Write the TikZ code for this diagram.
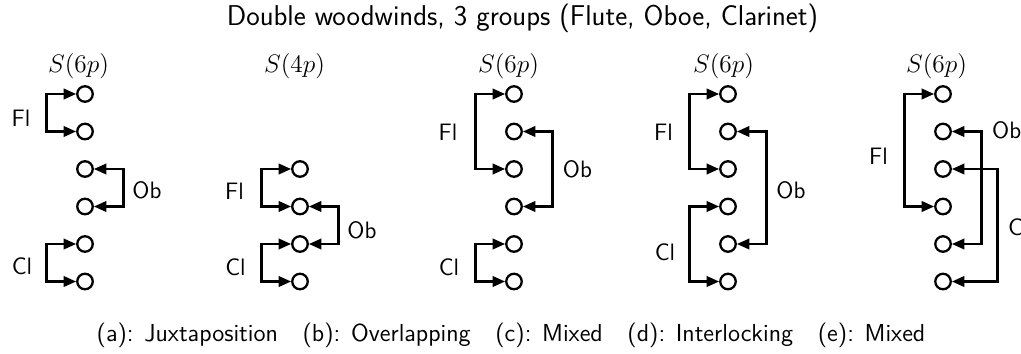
\documentclass[tikz,border=0pt]{standalone}
\usepackage{amsmath}
\usetikzlibrary{arrows.meta}

\begin{document}
\begin{tikzpicture}[
    font=\sffamily,
    hole/.style={circle, draw, line width=1.3pt, minimum size=0.31cm, inner sep=0pt},
    brk/.style={{Triangle[length=0.25cm, width=0.21cm]}-{Triangle[length=0.25cm, width=0.21cm]},
                line width=1.3pt},
    grp/.style={font=\sffamily\fontsize{13.5}{16}\selectfont},
    seats/.style={font=\fontsize{15.5}{18}\selectfont}
  ]
    \useasboundingbox (0,0) rectangle (20.42,7.06);

    %% ── Title
    \node[font=\sffamily\fontsize{16.3}{19}\selectfont] (title) at (10.45,6.70)
          {Double woodwinds, 3 groups (Flute, Oboe, Clarinet)};

    %% ── Players (one circle per seat)
    \foreach \col/\x in {a/1.70, c/10.28, d/14.56, e/18.86}
      \foreach \r/\y in {1/5.18, 2/4.43, 3/3.68, 4/2.93, 5/2.18, 6/1.43}
        \node[hole] (\col\r) at (\x,\y) {};
    \foreach \r/\y in {3/3.68, 4/2.93, 5/2.18, 6/1.43}
      \node[hole] (b\r) at (6.00,\y) {};

    %% ── Section sizes
    \node[seats] (sa) at (1.57,5.74)  {$S(6p)$};
    \node[seats] (sb) at (5.89,5.74)  {$S(4p)$};
    \node[seats] (sc) at (10.17,5.74) {$S(6p)$};
    \node[seats] (sd) at (14.47,5.74) {$S(6p)$};
    \node[seats] (se) at (18.73,5.74) {$S(6p)$};

    %% (a) juxtaposition
    \draw[brk] (a1.west) -- ++(-0.59,0) |- (a2.west);
    \draw[brk] (a3.east) -- ++(0.59,0)  |- (a4.east);
    \draw[brk] (a5.west) -- ++(-0.59,0) |- (a6.west);
    \node[grp] (fla) at (0.42,4.70) {Fl};
    \node[grp] (oba) at (2.94,3.25) {Ob};
    \node[grp] (cla) at (0.44,1.73) {Cl};

    %% (b) overlapping
    \draw[brk] (b3.west) -- ++(-0.59,0) |- (b4.west);
    \draw[brk] (b4.east) -- ++(0.59,0)  |- (b5.east);
    \draw[brk] (b5.west) -- ++(-0.59,0) |- (b6.west);
    \node[grp] (flb) at (4.69,3.23) {Fl};
    \node[grp] (obb) at (7.24,2.46) {Ob};
    \node[grp] (clb) at (4.71,1.71) {Cl};

    %% (c) mixed
    \draw[brk] (c1.west) -- ++(-0.59,0) |- (c3.west);
    \draw[brk] (c2.east) -- ++(0.59,0)  |- (c4.east);
    \draw[brk] (c5.west) -- ++(-0.59,0) |- (c6.west);
    \node[grp] (flc) at (8.96,4.42)  {Fl};
    \node[grp] (obc) at (11.55,3.67) {Ob};
    \node[grp] (clc) at (8.98,1.71)  {Cl};

    %% (d) interlocking
    \draw[brk] (d1.west) -- ++(-0.59,0) |- (d3.west);
    \draw[brk] (d2.east) -- ++(0.59,0)  |- (d5.east);
    \draw[brk] (d4.west) -- ++(-0.59,0) |- (d6.west);
    \node[grp] (fld) at (13.27,4.42) {Fl};
    \node[grp] (obd) at (15.82,3.26) {Ob};
    \node[grp] (cld) at (13.30,2.01) {Cl};

    %% (e) mixed
    \draw[brk] (e1.west) -- ++(-0.59,0) |- (e4.west);
    \draw[brk] (e2.east) -- ++(0.59,0)  |- (e5.east);
    \draw[brk] (e3.east) -- ++(0.91,0) |- (e6.east);
    \node[grp] (fle) at (17.57,3.93) {Fl};
    \node[grp, anchor=west] (obe) at (19.72,4.45) {Ob};
    \node[grp, anchor=west] (cle) at (20.04,2.51) {C};

    %% ── Captions
    \node[font=\sffamily\fontsize{14}{17}\selectfont] (caption) at (10.22,0.36)
          {(a): Juxtaposition\quad (b): Overlapping\quad (c): Mixed\quad
           (d): Interlocking\quad (e): Mixed};

\end{tikzpicture}
\end{document}
